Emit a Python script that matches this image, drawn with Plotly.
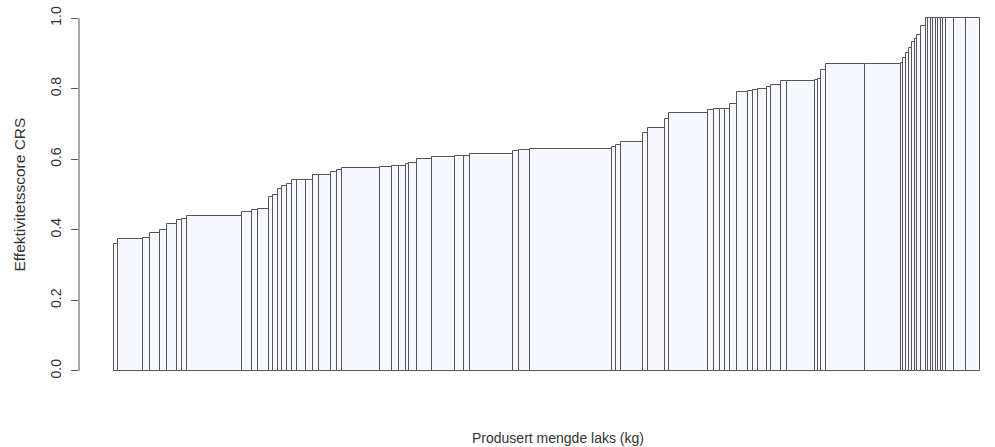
import plotly.graph_objects as go
import numpy as np

# Produced volume per farm (tonnes, bar width) and CRS efficiency score (bar height),
# sorted by efficiency score
produksjon = [4, 25, 7, 10, 7, 10, 5, 5, 55, 10, 6, 11, 4, 5, 4, 5, 5, 5, 9, 7,
              6, 12, 6, 5, 38, 12, 7, 7, 3, 8, 15, 23, 9, 6, 43, 6, 11, 82, 4, 5,
              22, 5, 17, 4, 39, 6, 6, 5, 5, 7, 11, 5, 5, 9, 4, 10, 6, 28, 3, 3,
              5, 39, 36, 2, 3, 3, 3, 3, 2, 4, 5, 2, 3, 2, 3, 2, 3, 2, 3, 8, 12,
              14]
effektivitet = [0.360, 0.374, 0.377, 0.390, 0.400, 0.417, 0.428, 0.430, 0.440, 0.450,
                0.455, 0.460, 0.493, 0.500, 0.515, 0.525, 0.530, 0.540, 0.540, 0.541,
                0.555, 0.556, 0.564, 0.570, 0.576, 0.578, 0.580, 0.580, 0.586, 0.590,
                0.600, 0.607, 0.609, 0.610, 0.615, 0.623, 0.625, 0.629, 0.635, 0.640,
                0.650, 0.675, 0.688, 0.714, 0.731, 0.739, 0.742, 0.742, 0.743, 0.757,
                0.790, 0.793, 0.796, 0.800, 0.805, 0.810, 0.822, 0.822, 0.824, 0.826,
                0.853, 0.870, 0.870, 0.872, 0.887, 0.900, 0.915, 0.932, 0.940, 0.952,
                0.977, 1.0, 1.0, 1.0, 1.0, 1.0, 1.0, 1.0, 1.0, 1.0, 1.0, 1.0]
y_ticks = [0.0, 0.2, 0.4, 0.6, 0.8, 1.0]

w = np.array(produksjon, dtype=float)
right = np.cumsum(w)
centers = right - w / 2
total = right[-1]

W, H = 995, 447
ml, mt, mb = 79, 4, 62
plot_w = W - ml
# R-style 4 % padding on both sides of the bar span; the right side is cut by the canvas
full_px = 936.0
units_per_px = total * 1.08 / full_px
x0 = -0.04 * total
x1 = x0 + plot_w * units_per_px

line_col = "#555555"
font = dict(family="Liberation Sans, Arial, sans-serif", size=14, color="#333333")

fig = go.Figure()
fig.add_trace(go.Bar(
    x=centers, y=effektivitet, width=w,
    marker=dict(color="#F8F8FF", line=dict(color=line_col, width=1)),
    hoverinfo="skip",
))

fig.update_layout(
    width=W, height=H,
    margin=dict(l=ml, r=0, t=mt, b=mb),
    paper_bgcolor="white", plot_bgcolor="white",
    showlegend=False, bargap=0,
    font=font,
    xaxis=dict(range=[x0, x1], showgrid=False, zeroline=False, showline=False,
               showticklabels=False, ticks=""),
    yaxis=dict(range=[-0.04, 1.04], showgrid=False, zeroline=False, showline=False,
               tickvals=y_ticks, ticktext=[f"{v:.1f}" for v in y_ticks],
               ticks="outside", ticklen=7, tickcolor=line_col, tickwidth=1,
               tickangle=-90, ticklabelstandoff=4, tickfont=font),
    shapes=[dict(type="line", xref="paper", yref="y", x0=0, x1=0,
                 y0=y_ticks[0], y1=y_ticks[-1],
                 line=dict(color=line_col, width=1))],
    annotations=[
        dict(text="Effektivitetsscore CRS", xref="paper", yref="y",
             x=(19 - ml) / plot_w, y=0.5, textangle=-90, showarrow=False,
             xanchor="center", yanchor="middle", font=dict(font, size=15.5)),
        dict(text="Produsert mengde laks (kg)", xref="paper", yref="paper",
             x=(558 - ml) / plot_w, y=-(438 - (H - mb)) / (H - mt - mb),
             showarrow=False, xanchor="center", yanchor="middle", font=font),
    ],
)

fig.write_html("out.html")
